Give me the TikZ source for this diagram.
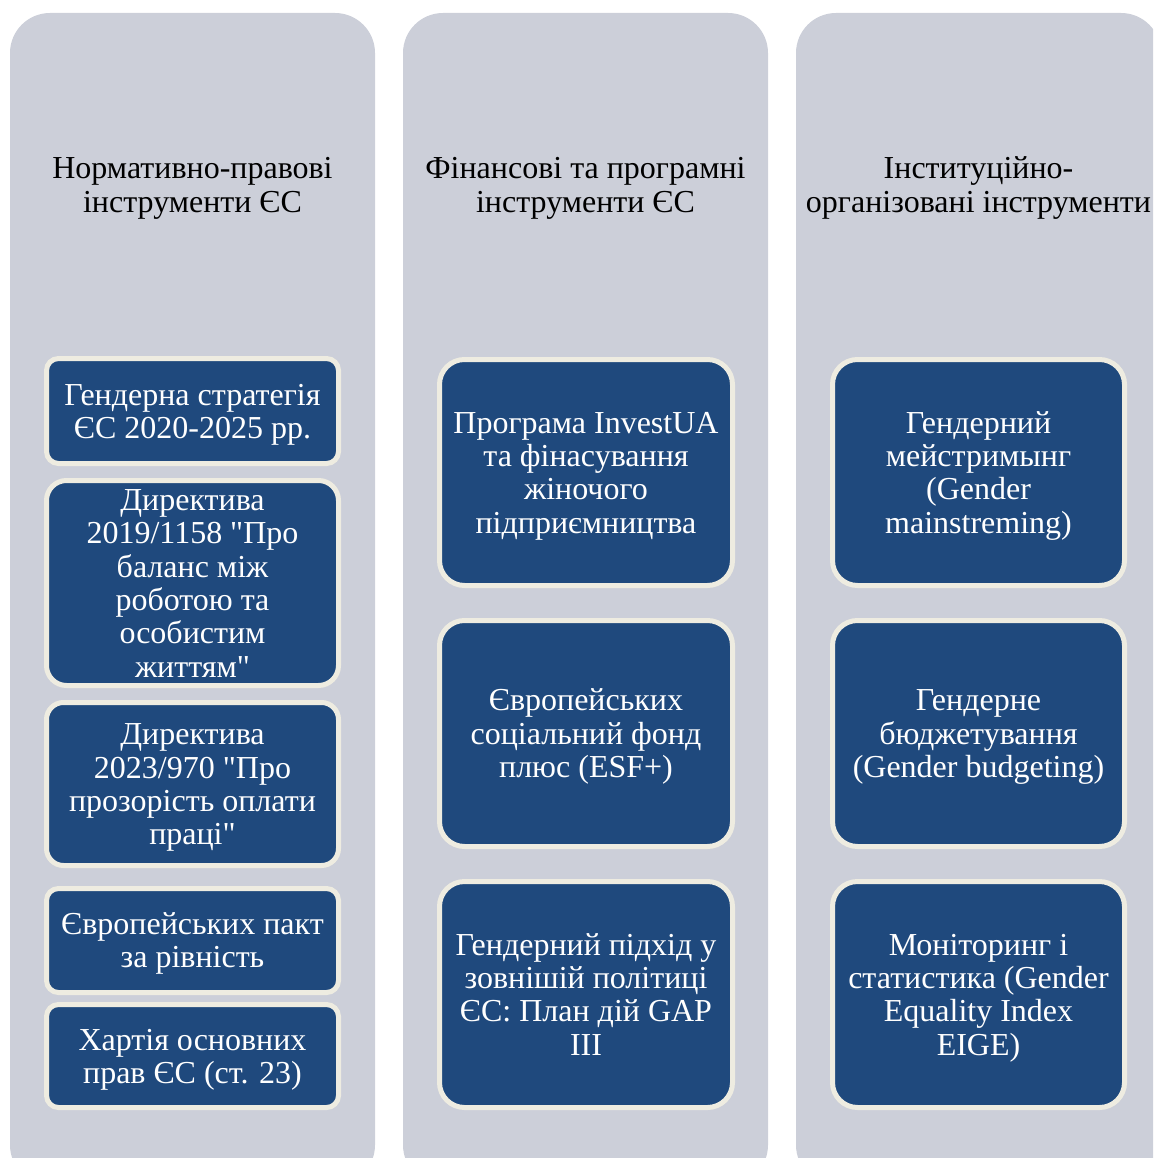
\documentclass[tikz,border=0pt]{standalone}
\usepackage{fontspec}
\setmainfont{Liberation Serif}
\newfontfamily\plainserif{Liberation Serif}
\usepackage{tikz}

\definecolor{colgrey}{RGB}{204,207,217}
\definecolor{boxblue}{RGB}{31,73,125}
\definecolor{boxrim}{RGB}{238,236,225}
\newcommand{\straightq}{{\plainserif"}}

\begin{document}
\begin{tikzpicture}[x=1pt, y=-1pt,
  column/.style={fill=colgrey, rounded corners=40pt, minimum width=365pt,
    minimum height=1172pt, inner sep=0pt},
  head/.style={align=center, font=\fontsize{32}{34}\selectfont, inner sep=0pt},
  instbox/.style={fill=boxblue, draw=boxrim, line width=5pt, text=white,
    align=flush center, text width=284pt, font=\fontsize{32}{33.3}\selectfont,
    inner sep=0pt, rounded corners=#1,
    execute at begin node={\rule{0pt}{29pt}},
    execute at end node={\rule[-7.5pt]{0pt}{7.5pt}}}]
  \useasboundingbox (0,0) rectangle (1153,1158);
  \begin{scope}
  \clip (0,0) rectangle (1153,1158);

  % the three grey columns
  \node[column] (colA) at (192.5, 599) {};
  \node[column] (colB) at (585.5, 599) {};
  \node[column] (colC) at (978.5, 599) {};

  \node[head] (headA) at (192.5, 188) {Нормативно-правові\\інструменти ЄС};
  \node[head] (headB) at (585.5, 188) {Фінансові та програмні\\інструменти ЄС};
  \node[head] (headC) at (978.5, 188) {Інституційно-\\організовані інструменти};

  % first column
  \node[instbox=12pt, minimum width=292pt, minimum height=105pt] (strat) at (192.5, 411)
    {Гендерна стратегія\\ЄС 2020-2025 рр.};
  \node[instbox=20pt, minimum width=292pt, minimum height=205pt] (dirA) at (192.5, 583)
    {Директива\\2019/1158 \straightq Про\\баланс між\\роботою та\\особистим\\життям\straightq};
  \node[instbox=17pt, minimum width=292pt, minimum height=163pt] (dirB) at (192.5, 784)
    {Директива\\2023/970 \straightq Про\\прозорість оплати\\праці\straightq};
  \node[instbox=12pt, minimum width=292pt, minimum height=104pt] (pact) at (192.5, 940.5)
    {Європейських пакт\\за рівність};
  \node[instbox=12pt, minimum width=292pt, minimum height=103pt] (charter) at (192.5, 1056)
    {Хартія основних\\прав ЄС (ст. 23)};

  % second column
  \node[instbox=25pt, minimum width=293pt, minimum height=226pt] (invest) at (586, 472.5)
    {Програма InvestUA\\та фінасування\\жіночого\\підприємництва};
  \node[instbox=25pt, minimum width=293pt, minimum height=226pt] (esf) at (586, 733.5)
    {Європейських\\соціальний фонд\\плюс (ESF+)};
  \node[instbox=25pt, minimum width=293pt, minimum height=226pt] (gap) at (586, 994.5)
    {Гендерний підхід у\\зовнішій політиці\\ЄС: План дій GAP\\III};

  % third column
  \node[instbox=25pt, minimum width=292pt, minimum height=226pt] (mainstr) at (978.5, 472.5)
    {Гендерний\\мейстримынг\\(Gender\\mainstreming)};
  \node[instbox=25pt, minimum width=292pt, minimum height=226pt] (budget) at (978.5, 733.5)
    {Гендерне\\бюджетування\\(Gender budgeting)};
  \node[instbox=25pt, minimum width=292pt, minimum height=226pt] (monitor) at (978.5, 994.5)
    {Моніторинг і\\статистика (Gender\\Equality Index\\EIGE)};
  \end{scope}
\end{tikzpicture}
\end{document}
